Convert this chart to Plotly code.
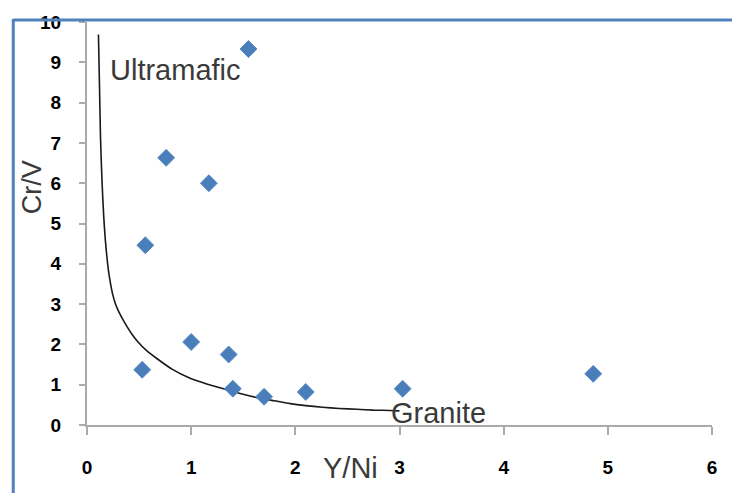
import plotly.graph_objects as go

# Sample ratios
y_ni = [0.53, 0.56, 0.76, 1.00, 1.17, 1.36, 1.40, 1.70, 2.10, 3.03, 4.86, 1.55]
cr_v = [1.37, 4.46, 6.63, 2.06, 6.00, 1.75, 0.90, 0.70, 0.82, 0.90, 1.27, 9.33]

# Ultramafic-to-granite trend curve
curve_x = [0.11, 0.12, 0.13, 0.145, 0.16, 0.175, 0.19, 0.205, 0.225, 0.245, 0.27,
           0.30, 0.34, 0.38, 0.43, 0.49, 0.57, 0.67, 0.82, 0.99, 1.15, 1.31,
           1.47, 1.63, 1.80, 1.95, 2.10, 2.26, 2.42, 2.59, 2.75, 2.91, 3.00]
curve_y = [9.69, 8.40, 7.10, 6.00, 5.20, 4.62, 4.20, 3.85, 3.52, 3.26, 3.03,
           2.84, 2.64, 2.46, 2.26, 2.06, 1.85, 1.65, 1.38, 1.16, 1.02, 0.90,
           0.78, 0.68, 0.60, 0.53, 0.48, 0.44, 0.41, 0.39, 0.37, 0.36, 0.35]

x_ticks = [0, 1, 2, 3, 4, 5, 6]
y_ticks = [0, 1, 2, 3, 4, 5, 6, 7, 8, 9, 10]

fig = go.Figure()
fig.add_trace(go.Scatter(x=curve_x, y=curve_y, mode="lines",
                         line=dict(color="#1a1a1a", width=1.6, shape="spline",
                                   smoothing=0.6),
                         hoverinfo="skip"))
fig.add_trace(go.Scatter(x=y_ni, y=cr_v, mode="markers",
                         marker=dict(symbol="diamond", size=13, color="#4a7ebb",
                                     line=dict(color="#5b8cc8", width=1))))

axis_font = dict(family="Liberation Sans, Arial, sans-serif", size=19,
                 color="#000000", weight="bold")
fig.update_xaxes(range=[0, 6], tickvals=x_ticks, ticktext=[str(v) for v in x_ticks],
                 showgrid=False, zeroline=False, showline=True,
                 linecolor="#aaaaaa", linewidth=2, ticks="outside", ticklen=8,
                 tickcolor="#aaaaaa", tickwidth=1.5, tickfont=axis_font,
                 ticklabelstandoff=16)
fig.update_yaxes(range=[0, 10], tickvals=y_ticks, ticktext=[str(v) for v in y_ticks],
                 showgrid=False, zeroline=False, showline=True,
                 linecolor="#aaaaaa", linewidth=2, ticks="outside", ticklen=6,
                 tickcolor="#aaaaaa", tickwidth=1.5, tickfont=axis_font,
                 ticklabelstandoff=14)

label_font = dict(family="Liberation Sans, Arial, sans-serif", size=29, color="#3a3a3a")
fig.add_annotation(x=0.20, y=8.80, text="Ultramafic", showarrow=False,
                   xanchor="left", yanchor="middle", font=label_font)
fig.add_annotation(x=2.90, y=0.30, text="Granite", showarrow=False,
                   xanchor="left", yanchor="middle", font=label_font)
fig.add_annotation(xref="paper", yref="paper", x=0.422, y=-0.107, text="Y/Ni",
                   showarrow=False, xanchor="center", yanchor="middle", font=label_font)
fig.add_annotation(xref="paper", yref="paper", x=-0.088, y=0.59, text="Cr/V",
                   showarrow=False, textangle=-90, xanchor="center", yanchor="middle",
                   font=dict(family="Liberation Sans, Arial, sans-serif", size=27,
                             color="#3a3a3a"))

# Frame lines along the top and left edge
border = dict(color="#4f81bd", width=3)
fig.add_shape(type="line", xref="paper", yref="paper", x0=-0.118, x1=1.04,
              y0=1.0048, y1=1.0048, line=border)
fig.add_shape(type="line", xref="paper", yref="paper", x0=-0.118, x1=-0.118,
              y0=1.0072, y1=-0.18, line=border)

fig.update_layout(width=732, height=493, showlegend=False,
                  margin=dict(l=87, r=20, t=12, b=68),
                  plot_bgcolor="white", paper_bgcolor="white")

fig.write_html("out.html")
